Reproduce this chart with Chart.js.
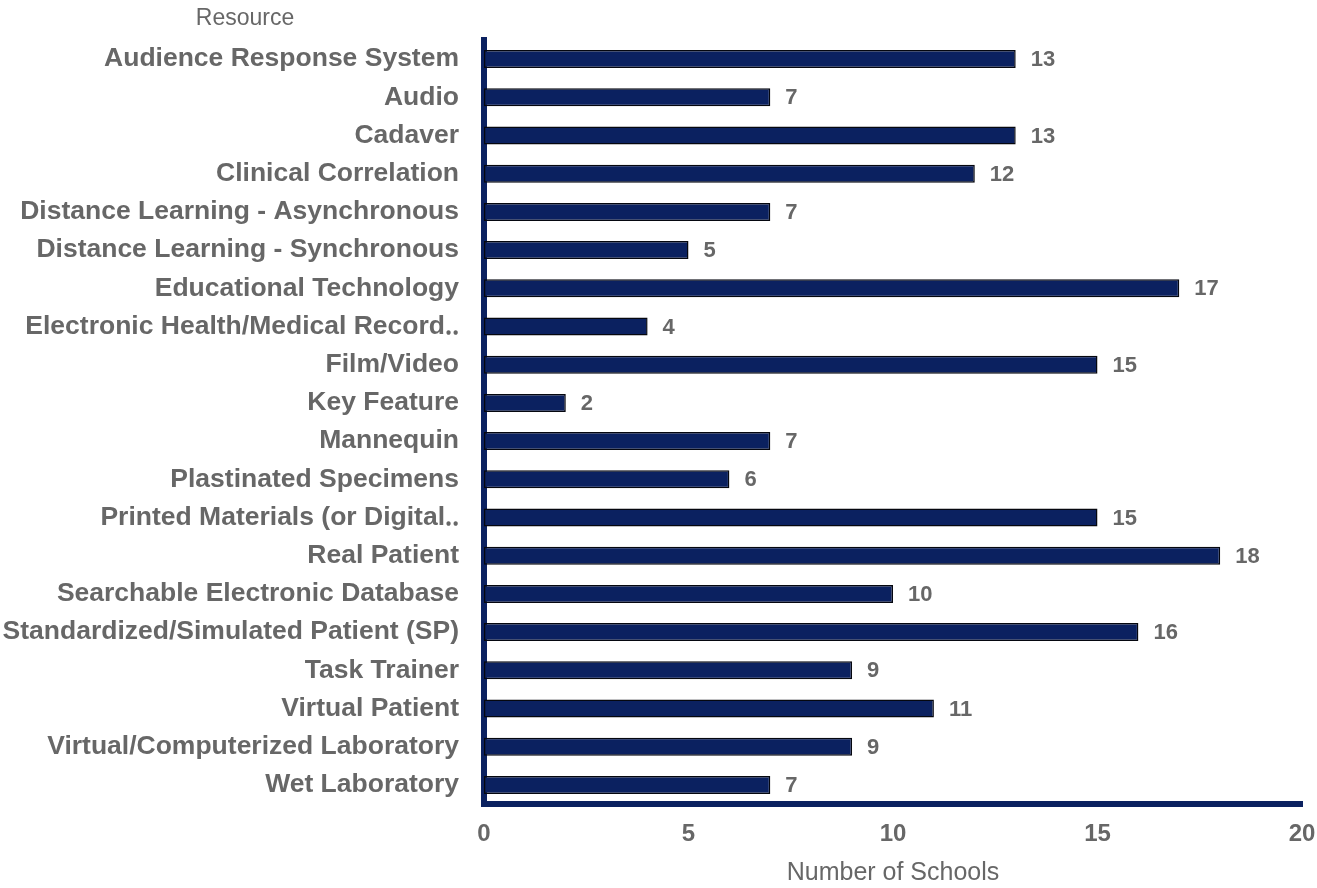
<!DOCTYPE html>
<html>
<head>
<meta charset="utf-8">
<script src="https://cdn.jsdelivr.net/npm/chart.js@4.4.0/dist/chart.umd.min.js"></script>
<style>
  html, body { margin: 0; padding: 0; background: #fff; }
  #wrap { width: 1317px; height: 888px; position: relative; }
</style>
</head>
<body>
<div id="wrap"><canvas id="bar-chart"></canvas></div>
<script>
// Resources used, number of schools
const resources = [
  'Audience Response System',
  'Audio',
  'Cadaver',
  'Clinical Correlation',
  'Distance Learning - Asynchronous',
  'Distance Learning - Synchronous',
  'Educational Technology',
  'Electronic Health/Medical Record\u2025',
  'Film/Video',
  'Key Feature',
  'Mannequin',
  'Plastinated Specimens',
  'Printed Materials (or Digital\u2025',
  'Real Patient',
  'Searchable Electronic Database',
  'Standardized/Simulated Patient (SP)',
  'Task Trainer',
  'Virtual Patient',
  'Virtual/Computerized Laboratory',
  'Wet Laboratory'
];
const schools = [13, 7, 13, 12, 7, 5, 17, 4, 15, 2, 7, 6, 15, 18, 10, 16, 9, 11, 9, 7];
const xTicks = [0, 5, 10, 15, 20];

const NAVY = '#0b2160';
const GREY = '#676767';
const FONT = '"Liberation Sans", Arial, sans-serif';

// value labels at the end of each bar + the "Resource" axis title on top
const barLabels = {
  id: 'barLabels',
  afterDatasetsDraw(chart) {
    const ctx = chart.ctx;
    const meta = chart.getDatasetMeta(0);
    ctx.save();
    ctx.font = `bold 22px ${FONT}`;
    ctx.fillStyle = GREY;
    ctx.textAlign = 'left';
    ctx.textBaseline = 'middle';
    meta.data.forEach((bar, i) => {
      ctx.fillText(schools[i], bar.x + 15, bar.y + 1);
    });
    ctx.font = `23px ${FONT}`;
    ctx.textAlign = 'center';
    ctx.fillText('Resource', 245, 19);
    ctx.restore();
  }
};

const ctx = document.getElementById('bar-chart').getContext('2d');
new Chart(ctx, {
  type: 'bar',
  data: {
    labels: resources,
    datasets: [{
      label: 'Number of Schools',
      data: schools,
      backgroundColor: NAVY,
      borderColor: '#05070f',
      borderWidth: 1.5,
      borderSkipped: false,
      barPercentage: 0.47,
      categoryPercentage: 1,
    }]
  },
  options: {
    indexAxis: 'y',
    responsive: true,
    maintainAspectRatio: false,
    animation: false,
    layout: { padding: { top: 40, right: 15, left: 0, bottom: 0 } },
    plugins: {
      legend: { display: false },
      tooltip: { enabled: false }
    },
    scales: {
      x: {
        min: 0,
        max: 20,
        afterBuildTicks: s => { s.ticks = xTicks.map(v => ({ value: v })); },
        grid: { display: false },
        border: { display: true, color: NAVY, width: 6 },
        ticks: { color: GREY, font: { family: FONT, size: 24, weight: 'bold' }, padding: 8 },
        title: { display: true, text: 'Number of Schools', color: GREY, font: { family: FONT, size: 25 }, padding: { top: 4, bottom: 0 } },
        afterFit: s => { s.height = 84; s.paddingLeft = 0; s.paddingRight = 0; }
      },
      y: {
        z: 1,
        grid: { display: false },
        border: { display: true, color: NAVY, width: 6 },
        ticks: { color: GREY, font: { family: FONT, size: 26.5, weight: 'bold' }, padding: 17, autoSkip: false },
        afterFit: s => { s.width = 484; }
      }
    }
  },
  plugins: [barLabels]
});
</script>
</body>
</html>
